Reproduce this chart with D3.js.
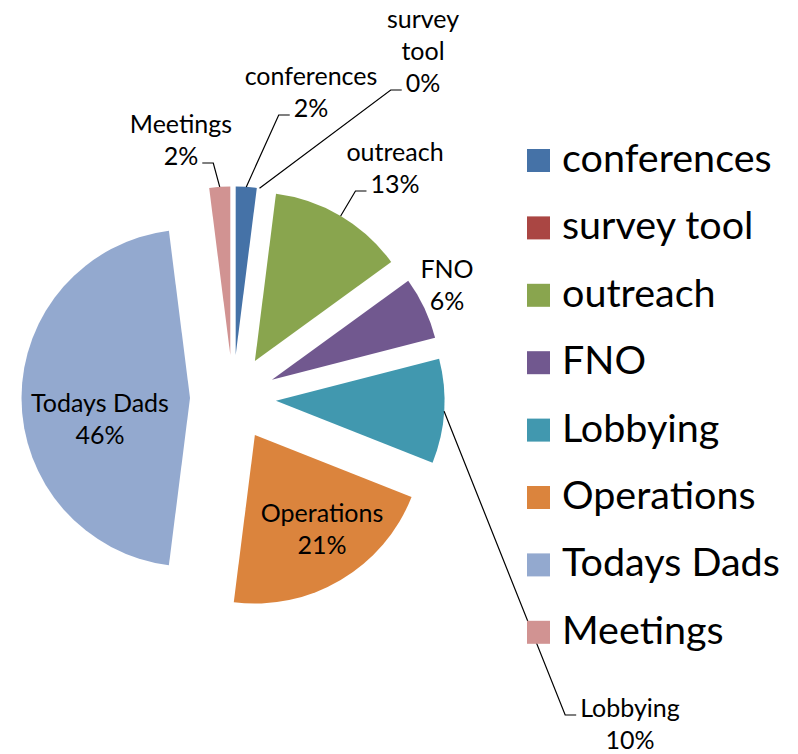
<!DOCTYPE html>
<html>
<head>
<meta charset="utf-8">
<script src="https://cdn.jsdelivr.net/npm/d3@7"></script>
<style>
  body { margin: 0; background: #fff; }
  text { font-family: Lato, "Noto Sans", sans-serif; fill: #000; }
</style>
</head>
<body>
<div id="chart"></div>
<script>
// slice data (percent of budget)
var categories = ["conferences", "survey tool", "outreach", "FNO", "Lobbying", "Operations", "Todays Dads", "Meetings"];
var values = [2, 0, 13, 6, 10, 21, 46, 2];
var colors = ["#4572A7", "#AA4643", "#89A54E", "#71588F", "#4198AF", "#DB843D", "#93A9CF", "#D19392"];

// where each data label goes (centre x, first baseline y) and which line the leader hooks on
var labelSpots = {
  "conferences": { x: 311, y: 85, hook: 1 },
  "survey tool": { x: 423, y: 28, hook: 2, wrap: true },
  "outreach":    { x: 395, y: 161, hook: 1 },
  "FNO":         { x: 447, y: 278 },
  "Lobbying":    { x: 630, y: 717, hook: 0 },
  "Operations":  { x: 322, y: 522 },
  "Todays Dads": { x: 100, y: 412 },
  "Meetings":    { x: 181, y: 133, hook: 1 }
};

var w = 798, h = 754;
var cx = 233, cy = 398, radius = 168.5, explode = 43;
var lineH = 32;

var svg = d3.select("#chart")
  .append("svg")
  .attr("width", w)
  .attr("height", h);

var pie = d3.pie().sort(null).value(function(d) { return d.value; });
var arc = d3.arc().innerRadius(0).outerRadius(radius);

var data = categories.map(function(c, i) { return { name: c, value: values[i], color: colors[i] }; });
var total = d3.sum(values);
var arcs = pie(data);

function mid(d) { return (d.startAngle + d.endAngle) / 2; }
function offset(d) {
  var a = mid(d);
  return [Math.sin(a) * explode, -Math.cos(a) * explode];
}

var pieG = svg.append("g").attr("transform", "translate(" + cx + "," + cy + ")");

// slices, each pushed out along its bisector
pieG.selectAll("path.slice")
  .data(arcs)
  .enter()
  .append("path")
  .attr("class", "slice")
  .attr("d", arc)
  .attr("transform", function(d) { var o = offset(d); return "translate(" + o[0] + "," + o[1] + ")"; })
  .style("fill", function(d) { return d.data.color; });

// data labels
var labelG = svg.append("g");
arcs.forEach(function(d) {
  var spot = labelSpots[d.data.name];
  var pct = Math.round(d.data.value / total * 100) + "%";
  var lines = spot.wrap ? d.data.name.split(" ").concat([pct]) : [d.data.name, pct];
  var nodes = [];
  lines.forEach(function(t, i) {
    var tx = labelG.append("text")
      .attr("x", spot.x)
      .attr("y", spot.y + i * lineH)
      .attr("text-anchor", "middle")
      .style("font-size", "25px")
      .text(t);
    nodes.push(tx);
  });

  if (spot.hook === undefined) return;

  // leader line: from the middle of the slice's outer edge to the label
  var o = offset(d), a = mid(d);
  var sx = cx + o[0] + Math.sin(a) * radius;
  var sy = cy + o[1] - Math.cos(a) * radius;
  var hookNode = nodes[spot.hook].node();
  var tw = hookNode.getComputedTextLength();
  var ly = spot.y + spot.hook * lineH - 2;
  var ex, elbow;
  if (spot.x > sx) {
    ex = spot.x - tw / 2 - 4;
    elbow = ex - 11;
  } else {
    ex = spot.x + tw / 2 + 4;
    elbow = ex + 11;
  }
  labelG.append("polyline")
    .attr("points", [[sx, sy], [elbow, ly], [ex, ly]].map(function(p) { return p.join(","); }).join(" "))
    .style("fill", "none")
    .style("stroke", "#000")
    .style("stroke-width", 1.2);
});

// legend
var legend = svg.append("g")
  .attr("transform", "translate(527,149)");

var item = legend.selectAll("g")
  .data(data)
  .enter()
  .append("g")
  .attr("transform", function(d, i) { return "translate(0," + (i * 67.4) + ")"; });

item.append("rect")
  .attr("width", 23)
  .attr("height", 23)
  .style("fill", function(d) { return d.color; });

item.append("text")
  .attr("x", 35)
  .attr("y", 23)
  .style("font-size", "39.5px")
  .text(function(d) { return d.name; });
</script>
</body>
</html>
